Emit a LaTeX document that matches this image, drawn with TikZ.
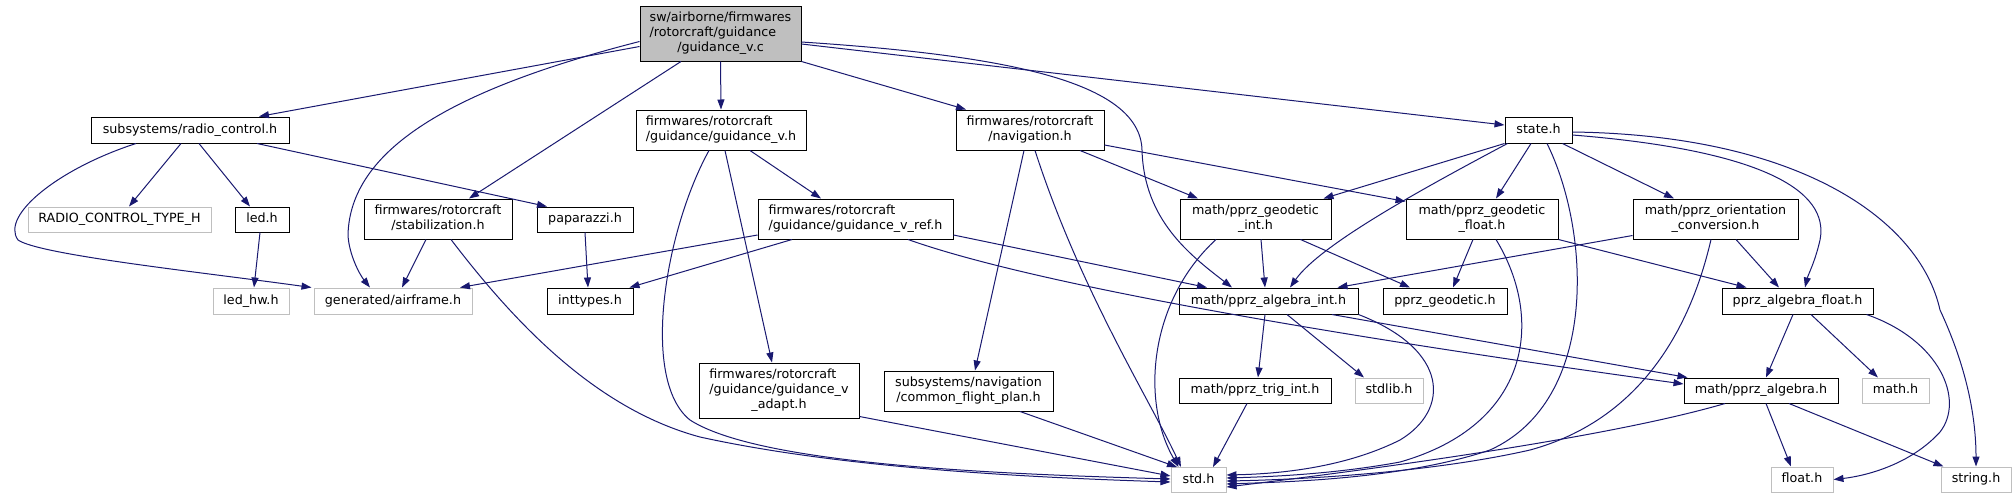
\documentclass[tikz,border=0pt]{standalone}
\usepackage{fontspec}
\setmainfont{DejaVu Sans}
\usetikzlibrary{arrows.meta}
\definecolor{edgec}{RGB}{25,25,112}
\definecolor{grayc}{RGB}{191,191,191}
\newcommand{\oneL}[1]{\begin{tabular}{@{}c@{}}#1\end{tabular}}
\newcommand{\twoL}[2]{\begin{tabular}{@{}l@{}}#1\\\multicolumn{1}{@{}c@{}}{#2}\end{tabular}}
\newcommand{\threeL}[3]{\begin{tabular}{@{}l@{}}#1\\#2\\\multicolumn{1}{@{}c@{}}{#3}\end{tabular}}
\begin{document}
\begin{tikzpicture}[x=1pt,y=-1pt,
  box/.style={draw=black, fill=white, line width=1pt, inner sep=0pt, font=\fontsize{12.7}{15}\selectfont},
  gbox/.style={box, draw=grayc},
  dep/.style={draw=edgec, line width=1pt, -{Triangle[length=10pt,width=7pt]}}]
\useasboundingbox[fill=white] (0,0) rectangle (2016,499);
% nodes
\node[box, fill=grayc, minimum width=161pt, minimum height=55pt] (main) at (720.5,33.5) {\threeL{sw/airborne/firmwares}{/rotorcraft/guidance}{/guidance\_v.c}};
\node[box, minimum width=198pt, minimum height=26pt] (rc) at (190,130) {\oneL{subsystems/radio\_control.h}};
\node[gbox, minimum width=183pt, minimum height=25pt] (rctype) at (119.5,219.5) {\oneL{RADIO\_CONTROL\_TYPE\_H}};
\node[box, minimum width=54pt, minimum height=25pt] (led) at (262,219.5) {\oneL{led.h}};
\node[box, minimum width=148pt, minimum height=40pt] (stab) at (438,219) {\twoL{firmwares/rotorcraft}{/stabilization.h}};
\node[box, minimum width=96pt, minimum height=25pt] (pap) at (585,219.5) {\oneL{paparazzi.h}};
\node[gbox, minimum width=76pt, minimum height=26pt] (ledhw) at (251,301) {\oneL{led\_hw.h}};
\node[gbox, minimum width=158pt, minimum height=26pt] (airframe) at (393,301) {\oneL{generated/airframe.h}};
\node[box, minimum width=86pt, minimum height=26pt] (inttypes) at (590,301) {\oneL{inttypes.h}};
\node[box, minimum width=170pt, minimum height=40pt] (gvh) at (721,130) {\twoL{firmwares/rotorcraft}{/guidance/guidance\_v.h}};
\node[box, minimum width=148pt, minimum height=40pt] (nav) at (1030,130) {\twoL{firmwares/rotorcraft}{/navigation.h}};
\node[box, minimum width=67pt, minimum height=26pt] (state) at (1538.5,130) {\oneL{state.h}};
\node[box, minimum width=195pt, minimum height=40pt] (ref) at (855.5,219) {\twoL{firmwares/rotorcraft}{/guidance/guidance\_v\_ref.h}};
\node[box, minimum width=151pt, minimum height=40pt] (geoint) at (1255.5,219) {\twoL{math/pprz\_geodetic}{\_int.h}};
\node[box, minimum width=152pt, minimum height=40pt] (geofloat) at (1482,219) {\twoL{math/pprz\_geodetic}{\_float.h}};
\node[box, minimum width=165pt, minimum height=40pt] (orient) at (1715.5,219) {\twoL{math/pprz\_orientation}{\_conversion.h}};
\node[box, minimum width=179pt, minimum height=26pt] (algint) at (1268.5,301) {\oneL{math/pprz\_algebra\_int.h}};
\node[box, minimum width=124pt, minimum height=26pt] (geodetic) at (1445,301) {\oneL{pprz\_geodetic.h}};
\node[box, minimum width=151pt, minimum height=26pt] (algfloat) at (1797.5,301) {\oneL{pprz\_algebra\_float.h}};
\node[box, minimum width=152pt, minimum height=25pt] (trig) at (1255,390.5) {\oneL{math/pprz\_trig\_int.h}};
\node[gbox, minimum width=68pt, minimum height=25pt] (stdlib) at (1389,390.5) {\oneL{stdlib.h}};
\node[box, minimum width=154pt, minimum height=25pt] (alg) at (1761,390.5) {\oneL{math/pprz\_algebra.h}};
\node[gbox, minimum width=67pt, minimum height=25pt] (math) at (1895.5,390.5) {\oneL{math.h}};
\node[box, minimum width=160pt, minimum height=55pt] (adapt) at (779,390.5) {\threeL{firmwares/rotorcraft}{/guidance/guidance\_v}{\_adapt.h}};
\node[box, minimum width=169pt, minimum height=40pt] (cfp) at (968.5,391) {\twoL{subsystems/navigation}{/common\_flight\_plan.h}};
\node[gbox, minimum width=55pt, minimum height=25pt] (std) at (1198.5,480) {\oneL{std.h}};
\node[gbox, minimum width=62pt, minimum height=25pt] (float) at (1802,479.5) {\oneL{float.h}};
\node[gbox, minimum width=70pt, minimum height=25pt] (string) at (1976,479.5) {\oneL{string.h}};
% edges from main
\draw[dep] ([yshift=-13pt]main.west) -- ([xshift=69pt]rc.north);
\draw[dep] ([yshift=-8pt]main.west) .. controls (450,90) and (350,150) .. (348,235) .. controls (349,255) and (360,275) .. ([xshift=-23pt]airframe.north);
\draw[dep] ([xshift=-39.5pt]main.south) -- ([xshift=31pt]stab.north);
\draw[dep] (main.south) -- (gvh.north);
\draw[dep] (main.south east) -- ([xshift=-64pt]nav.north);
\draw[dep] ([yshift=-8.5pt]main.east) .. controls (1000,55) and (1140,80) .. (1142,150) .. controls (1144,220) and (1190,255) .. ([xshift=-36.5pt]algint.north);
\draw[dep] ([yshift=-10.5pt]main.east) -- ([yshift=5pt]state.west);
% radio control
\draw[dep] ([xshift=-54pt]rc.south) .. controls (60,168) and (0,215) .. (18,240) .. controls (40,255) and (200,272) .. ([xshift=-2pt]airframe.north west);
\draw[dep] ([xshift=-9pt]rc.south) -- ([xshift=9.5pt]rctype.north);
\draw[dep] ([xshift=9pt]rc.south) -- ([xshift=-12pt]led.north);
\draw[dep] ([xshift=67pt]rc.south) -- ([xshift=-38pt]pap.north);
\draw[dep] ([xshift=-2pt]led.south) -- ([xshift=3pt]ledhw.north);
% stabilization
\draw[dep] ([xshift=-12pt]stab.south) -- ([xshift=9pt]airframe.north);
\draw[dep] ([xshift=13pt]stab.south) .. controls (520,330) and (600,410) .. (700,437) .. controls (850,470) and (1050,478) .. ([yshift=-2pt]std.west);
\draw[dep] (pap.south) -- ([xshift=-2pt]inttypes.north);
% guidance_v.h
\draw[dep] ([xshift=-12pt]gvh.south) .. controls (665,230) and (640,380) .. (690,420) .. controls (760,465) and (1000,474) .. ([yshift=1pt]std.west);
\draw[dep] ([xshift=29pt]gvh.south) -- ([xshift=-34.5pt]ref.north);
\draw[dep] ([xshift=4pt]gvh.south) -- ([xshift=-7pt]adapt.north);
% guidance_v_ref.h
\draw[dep] ([yshift=-16pt]ref.west) -- ([xshift=67pt]airframe.north);
\draw[dep] ([xshift=-63.5pt]ref.south) -- ([xshift=-4pt]inttypes.north east);
\draw[dep] ([yshift=-16pt]ref.east) -- ([xshift=-61.5pt]algint.north);
\draw[dep] ([xshift=52.5pt]ref.south) .. controls (1050,290) and (1400,345) .. ([yshift=6.5pt]alg.west);
% navigation
\draw[dep] ([xshift=-6pt]nav.south) -- ([xshift=6.5pt]cfp.north);
\draw[dep] ([xshift=5pt]nav.south) .. controls (1080,290) and (1150,400) .. ([xshift=-17.5pt]std.north);
\draw[dep] ([xshift=50pt]nav.south) -- ([xshift=-57.5pt]geoint.north);
\draw[dep] ([yshift=-15pt]nav.east) -- ([yshift=-3pt]geofloat.north west);
% state
\draw[dep] (state.south west) -- ([xshift=-8pt]geoint.north east);
\draw[dep] ([xshift=3pt]state.south west) .. controls (1420,190) and (1320,245) .. ([xshift=21.5pt]algint.north);
\draw[dep] ([xshift=-7.5pt]state.south) -- ([xshift=14pt]geofloat.north);
\draw[dep] ([xshift=8.5pt]state.south) .. controls (1590,230) and (1600,400) .. (1490,450) .. controls (1400,480) and (1280,482) .. ([yshift=-4pt]std.east);
\draw[dep] ([xshift=-10pt]state.south east) -- ([xshift=-41.5pt]orient.north);
\draw[dep] ([yshift=-5pt]state.east) .. controls (1760,150) and (1830,190) .. (1820,240) .. controls (1815,262) and (1808,275) .. ([xshift=7.5pt]algfloat.north);
\draw[dep] ([yshift=-2pt]state.east) .. controls (1800,135) and (1920,220) .. (1940,310) .. controls (1968,370) and (1976,420) .. (string.north);
% geodetic int / float
\draw[dep] ([xshift=5.5pt]geoint.south) -- ([xshift=-3.5pt]algint.north);
\draw[dep] ([xshift=45pt]geoint.south) -- ([xshift=-35pt]geodetic.north);
\draw[dep] ([xshift=-39.5pt]geoint.south) .. controls (1150,300) and (1140,400) .. ([xshift=-20pt]std.north);
\draw[dep] ([xshift=-9pt]geofloat.south) -- ([xshift=8pt]geodetic.north);
\draw[dep] ([xshift=14pt]geofloat.south) .. controls (1545,320) and (1530,425) .. (1400,462) .. controls (1330,475) and (1260,477) .. ([yshift=2pt]std.east);
\draw[dep] (geofloat.south east) -- ([xshift=25pt]algfloat.north west);
% orientation
\draw[dep] ([yshift=4pt]orient.south west) -- ([xshift=-21pt]algint.north east);
\draw[dep] ([xshift=20.5pt]orient.south) -- ([xshift=-18.5pt]algfloat.north);
\draw[dep] ([xshift=-4.5pt]orient.south) .. controls (1690,330) and (1640,420) .. (1530,450) .. controls (1420,475) and (1280,480) .. ([yshift=-1pt]std.east);
% algebra int
\draw[dep] ([xshift=-3.5pt]algint.south) -- ([xshift=3pt]trig.north);
\draw[dep] ([xshift=18.5pt]algint.south) -- ([xshift=-25pt]stdlib.north);
\draw[dep] (algint.south east) .. controls (1450,350) and (1450,410) .. (1400,440) .. controls (1340,470) and (1270,474) .. ([yshift=5pt]std.east);
\draw[dep] ([xshift=63.5pt]algint.south) -- ([xshift=4pt]alg.north west);
\draw[dep] ([xshift=-8pt]trig.south) -- ([xshift=14.5pt]std.north);
% algebra float
\draw[dep] ([xshift=-4.5pt]algfloat.south) -- ([xshift=5pt]alg.north);
\draw[dep] ([xshift=13.5pt]algfloat.south) -- ([xshift=-17.5pt]math.north);
\draw[dep] ([xshift=-7pt]algfloat.south east) .. controls (1940,340) and (1965,400) .. (1940,432) .. controls (1910,465) and (1865,476) .. (float.east);
% algebra
\draw[dep] ([xshift=-36pt]alg.south) .. controls (1600,440) and (1350,472) .. ([yshift=-7pt]std.east);
\draw[dep] ([xshift=5pt]alg.south) -- ([xshift=-11pt]float.north);
\draw[dep] ([xshift=28pt]alg.south) -- ([xshift=3pt]string.north west);
% others to std
\draw[dep] ([xshift=51.5pt]cfp.south) -- ([xshift=-21.5pt]std.north);
\draw[dep] ([yshift=2pt]adapt.south east) -- ([yshift=4pt]std.west);
\end{tikzpicture}
\end{document}
